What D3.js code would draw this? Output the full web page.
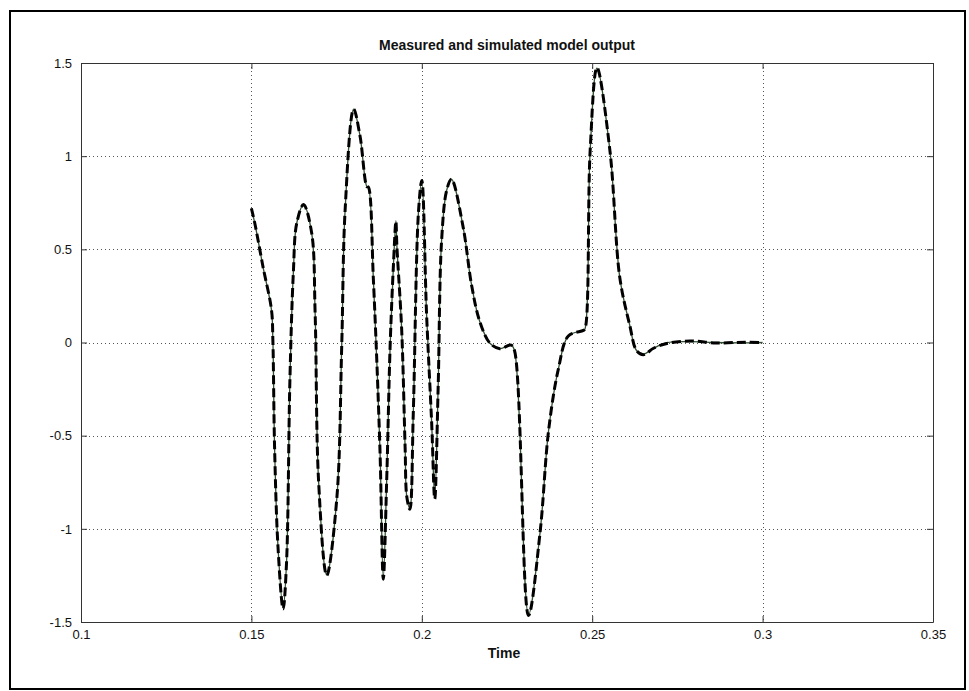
<!DOCTYPE html>
<html>
<head>
<meta charset="utf-8">
<script src="https://cdn.jsdelivr.net/npm/d3@7"></script>
<style>
  html, body { margin: 0; padding: 0; background: #fff; }
  svg { display: block; }
  text { font-family: "Liberation Sans", Arial, Helvetica, sans-serif; fill: #111; }
</style>
</head>
<body>
<div id="chart"></div>
<script>
// ---------------- data ----------------
const chartTitle = "Measured and simulated model output";
const xLabel = "Time";
const xTicks = [0.1, 0.15, 0.2, 0.25, 0.3, 0.35];
const yTicks = [-1.5, -1, -0.5, 0, 0.5, 1, 1.5];
const xDomain = [0.1, 0.35];
const yDomain = [-1.5, 1.5];

// sample times
const time = [
  0.1500, 0.1510, 0.1534, 0.1559, 0.1563, 0.1568, 0.1578, 0.1593, 0.1603, 0.1613,
  0.1623, 0.1633, 0.1653, 0.1677, 0.1687, 0.1697, 0.1721, 0.1751, 0.1765, 0.1775,
  0.1800, 0.1819, 0.1839, 0.1843, 0.1858, 0.1877, 0.1887, 0.1897, 0.1907, 0.1917,
  0.1924, 0.1927, 0.1941, 0.1951, 0.1956, 0.1965, 0.1975, 0.1990, 0.2000, 0.2014,
  0.2029, 0.2038, 0.2048, 0.2058, 0.2073, 0.2087, 0.2121, 0.2146, 0.2170, 0.2200,
  0.2229, 0.2262, 0.2272, 0.2313, 0.2347, 0.2372, 0.2401, 0.2430, 0.2474, 0.2479,
  0.2494, 0.2514, 0.2552, 0.2581, 0.2610, 0.2630, 0.2650, 0.2680, 0.2719, 0.2787,
  0.2865, 0.2950, 0.3000
];
// measured output
const measured = [
   0.720,  0.640,  0.407,  0.174,  0.013, -0.560, -1.096, -1.427, -1.185, -0.200,
   0.371,  0.640,  0.738,  0.586,  0.157, -0.738, -1.248, -0.828, -0.020,  0.711,
   1.252,  1.105,  0.836,  0.835,  0.335, -0.560, -1.266, -0.738, -0.022,  0.425,
   0.654,  0.514,  0.067, -0.560, -0.828, -0.890, -0.380,  0.693,  0.866,  0.152,
  -0.434, -0.835, -0.239,  0.544,  0.817,  0.876,  0.622,  0.309,  0.113, -0.004,
  -0.033, -0.014, -0.043, -1.460, -1.020, -0.473, -0.140,  0.035,  0.065,  0.074,
   1.030,  1.472,  1.030,  0.348,  0.094, -0.043, -0.062, -0.031, -0.001,  0.005,
   0.000, -0.002,  0.000
];
// simulated output (dashed)
const simulated = [
   0.720,  0.640,  0.407,  0.174,  0.013, -0.560, -1.096, -1.430, -1.185, -0.200,
   0.371,  0.640,  0.740,  0.586,  0.157, -0.738, -1.250, -0.828, -0.020,  0.711,
   1.252,  1.105,  0.836,  0.835,  0.335, -0.560, -1.270, -0.738, -0.022,  0.425,
   0.650,  0.514,  0.067, -0.560, -0.828, -0.895, -0.380,  0.693,  0.870,  0.152,
  -0.434, -0.840, -0.239,  0.544,  0.817,  0.876,  0.622,  0.309,  0.113, -0.004,
  -0.033, -0.014, -0.043, -1.465, -1.020, -0.473, -0.140,  0.035,  0.065,  0.074,
   1.030,  1.475,  1.030,  0.348,  0.094, -0.043, -0.066, -0.031, -0.005,  0.008,
  -0.003,  0.002,  0.000
];

// ---------------- drawing ----------------
const W = 969, H = 691;
const margin = { left: 81, top: 63, right: W - 933, bottom: H - 622 };
const iw = W - margin.left - margin.right;
const ih = H - margin.top - margin.bottom;

const svg = d3.select("#chart").append("svg").attr("width", W).attr("height", H);

// outer frame
svg.append("rect")
  .attr("x", 10).attr("y", 11).attr("width", 955).attr("height", 678)
  .attr("fill", "none").attr("stroke", "#000").attr("stroke-width", 2);

const g = svg.append("g").attr("transform", `translate(${margin.left},${margin.top})`);

const x = d3.scaleLinear().domain(xDomain).range([0, iw]);
const y = d3.scaleLinear().domain(yDomain).range([ih, 0]);

// grid
const innerX = xTicks.filter(t => t > xDomain[0] && t < xDomain[1]);
const innerY = yTicks.filter(t => t > yDomain[0] && t < yDomain[1]);
g.append("g").selectAll("line").data(innerX).join("line")
  .attr("x1", d => Math.round(x(d)) + 0.5).attr("x2", d => Math.round(x(d)) + 0.5)
  .attr("y1", 0).attr("y2", ih)
  .attr("stroke", "#555").attr("stroke-width", 1).attr("stroke-dasharray", "1,3");
g.append("g").selectAll("line").data(innerY).join("line")
  .attr("y1", d => Math.round(y(d)) + 0.5).attr("y2", d => Math.round(y(d)) + 0.5)
  .attr("x1", 0).attr("x2", iw)
  .attr("stroke", "#555").attr("stroke-width", 1).attr("stroke-dasharray", "1,3");

// axes (inward ticks like MATLAB)
const fmt = d => String(d);
const axB = g.append("g").attr("transform", `translate(0,${ih})`)
  .call(d3.axisBottom(x).tickValues(xTicks).tickFormat(fmt).tickSizeInner(-6).tickSizeOuter(0).tickPadding(8));
const axT = g.append("g")
  .call(d3.axisTop(x).tickValues(xTicks).tickFormat("").tickSizeInner(-6).tickSizeOuter(0));
const axL = g.append("g")
  .call(d3.axisLeft(y).tickValues(yTicks).tickFormat(fmt).tickSizeInner(-6).tickSizeOuter(0).tickPadding(9));
const axR = g.append("g").attr("transform", `translate(${iw},0)`)
  .call(d3.axisRight(y).tickValues(yTicks).tickFormat("").tickSizeInner(-6).tickSizeOuter(0));
[axB, axT, axL, axR].forEach(a => {
  a.select(".domain").attr("stroke", "#333");
  a.selectAll(".tick line").attr("stroke", "#333");
  a.selectAll("text").attr("font-size", 13).attr("fill", "#222")
    .attr("font-family", "'Liberation Sans', Arial, sans-serif");
});

// series
const ptsM = time.map((t, i) => [t, measured[i]]);
const ptsS = time.map((t, i) => [t, simulated[i]]);
const line = d3.line().x(d => x(d[0])).y(d => y(d[1])).curve(d3.curveCatmullRom.alpha(0.5));

g.append("path").datum(ptsM).attr("d", line)
  .attr("fill", "none").attr("stroke", "#2f4f2f").attr("stroke-width", 1.3);
g.append("path").datum(ptsS).attr("d", line)
  .attr("fill", "none").attr("stroke", "#000").attr("stroke-width", 3)
  .attr("stroke-dasharray", "9,4");

// title and label
svg.append("text").attr("x", margin.left + iw / 2).attr("y", 50)
  .attr("text-anchor", "middle").attr("font-size", 14).attr("font-weight", "bold")
  .text(chartTitle);
svg.append("text").attr("x", margin.left + iw / 2 - 3).attr("y", 658)
  .attr("text-anchor", "middle").attr("font-size", 14).attr("font-weight", "bold")
  .text(xLabel);
</script>
</body>
</html>
